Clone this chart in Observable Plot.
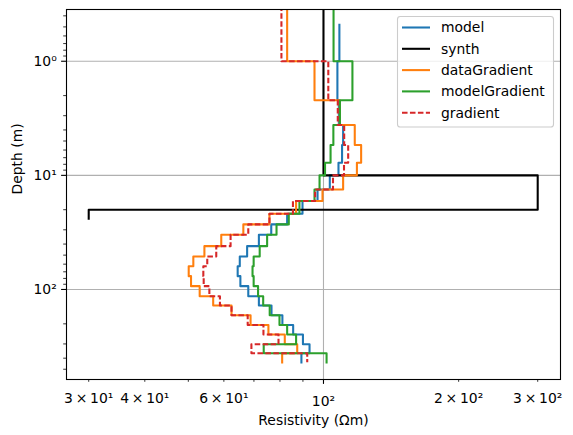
<!DOCTYPE html>
<html><head><meta charset="utf-8">
<script src="https://cdn.jsdelivr.net/npm/d3@7"></script>
<script src="https://cdn.jsdelivr.net/npm/@observablehq/plot@0.6"></script>
<style>body{margin:0;background:#fff} svg{display:block}</style>
</head><body><div id="chart"></div>
<script>
// Layer bottoms (depth, m) shared by the inverted models
const layerBottoms = [1.0, 2.2, 3.62, 5.42, 7.74, 10, 13.3, 16.8, 21.7, 26.9, 33.1, 41.7, 51.4, 62.5, 76.4, 93.5, 114.5, 138, 168, 205, 248, 302, 362];
const halfSpaceBottom = 435;
const modelTop = 0.48;
const curveTop = 0.2;

const model = [108.5, 107.4, 108.2, 110.6, 110.0, 108.0, 103.3, 97.0, 89.8, 83.0, 76.5, 71.8, 67.6, 65.1, 64.4, 65.3, 68.0, 71.8, 76.6, 81.0, 85.6, 90.0, 93.1, 89.3];
const dataGradient = [83.0, 95.5, 108.7, 117.4, 121.3, 118.7, 110.6, 99.5, 86.9, 75.8, 66.3, 59.2, 54.3, 51.3, 50.1, 50.7, 53.0, 56.8, 62.4, 68.8, 75.4, 82.0, 87.4, 80.9];
const modelGradient = [105.3, 116.0, 108.8, 105.2, 103.7, 100.8, 98.0, 95.5, 88.4, 83.7, 78.6, 74.9, 72.1, 69.9, 69.5, 69.9, 71.5, 73.4, 75.9, 79.8, 83.0, 86.9, 73.6, 101.6];
const gradient = [80.6, 102.5, 107.6, 111.2, 113.5, 111.1, 105.0, 95.8, 85.5, 75.8, 68.0, 62.1, 57.7, 55.1, 54.0, 54.1, 55.7, 58.8, 62.4, 67.8, 73.5, 79.4, 69.1, 92.0];

const synthRes = [100, 300, 30];
const synthBottoms = [10, 20];
const synthHalfSpaceBottom = 24;

const xMajorTicks = [100];
const xMinorLabelTicks = [30, 40, 60, 200, 300];
const xMinorTicks = [50, 70, 80, 90];
const yMajorTicks = [1, 10, 100];
const yMinorTicks = [0.4, 0.5, 0.6, 0.7, 0.8, 0.9, 2, 3, 4, 5, 6, 7, 8, 9, 20, 30, 40, 50, 60, 70, 80, 90, 200, 300, 400, 500];

const seriesNames = ["model", "synth", "dataGradient", "modelGradient", "gradient"];
const seriesColors = ["#1f77b4", "#000000", "#ff7f0e", "#2ca02c", "#d62728"];

function steps(values, bottoms, top, last) {
  const edges = [top, ...bottoms, last];
  const pts = [];
  values.forEach((v, i) => {
    pts.push({res: v, depth: edges[i]});
    pts.push({res: v, depth: edges[i + 1]});
  });
  return pts;
}

const sup = {"0": "\u2070", "1": "\u00b9", "2": "\u00b2"};
const expOf = d => Math.floor(Math.log10(d) + 1e-9);
const fmtMajor = d => "10" + sup[expOf(d)];
const fmtMinor = d => {
  const e = expOf(d);
  const m = Math.round(d / 10 ** e);
  return `${m}\u2009\u00d7\u200910${sup[e]}`;
};

const lw = 2.08;
const series = [
  {pts: steps(model, layerBottoms, modelTop, halfSpaceBottom), color: seriesColors[0]},
  {pts: steps(synthRes, synthBottoms, curveTop, synthHalfSpaceBottom), color: seriesColors[1]},
  {pts: steps(dataGradient, layerBottoms, curveTop, halfSpaceBottom), color: seriesColors[2]},
  {pts: steps(modelGradient, layerBottoms, curveTop, halfSpaceBottom), color: seriesColors[3]},
  {pts: steps(gradient, layerBottoms, curveTop, halfSpaceBottom), color: seriesColors[4], dash: "5.55,2.4"}
];

const fs = 13.9;
const chart = Plot.plot({
  width: 573,
  height: 435,
  marginLeft: 66,
  marginRight: 13,
  marginTop: 9,
  marginBottom: 56,
  style: {fontFamily: "DejaVu Sans", fontSize: fs + "px", background: "white", color: "black"},
  x: {type: "log", domain: [26.77, 337.2]},
  y: {type: "log", domain: [0.352, 615], reverse: true},
  marks: [
    Plot.gridX({ticks: xMajorTicks, stroke: "#b0b0b0", strokeOpacity: 1, strokeWidth: 1.1}),
    Plot.gridY({ticks: yMajorTicks, stroke: "#b0b0b0", strokeOpacity: 1, strokeWidth: 1.1}),
    ...series.map(s => Plot.line(s.pts, {
      x: "res", y: "depth", stroke: s.color, strokeWidth: lw, clip: true,
      strokeDasharray: s.dash, strokeLinecap: s.dash ? "butt" : "square", strokeLinejoin: "round"
    })),
    Plot.frame({stroke: "black", strokeWidth: 1.1}),
    Plot.axisX({ticks: xMajorTicks, tickFormat: fmtMajor, tickSize: 4.9, tickPadding: 12, fontSize: fs, label: null, strokeWidth: 1.1}),
    Plot.axisX({ticks: xMinorLabelTicks, tickFormat: fmtMinor, tickSize: 2.8, tickPadding: 11, fontSize: fs, label: null, strokeWidth: 0.8}),
    Plot.axisX({ticks: xMinorTicks, tickFormat: () => "", tickSize: 2.8, label: null, strokeWidth: 0.8}),
    Plot.axisY({ticks: yMajorTicks, tickFormat: fmtMajor, tickSize: 4.9, tickPadding: 4.9, fontSize: fs, label: null, strokeWidth: 1.1}),
    Plot.axisY({ticks: yMinorTicks, tickFormat: () => "", tickSize: 2.8, label: null, strokeWidth: 0.8}),
    Plot.text(["Resistivity (\u03a9m)"], {frameAnchor: "bottom", dy: 45, text: d => d, fontSize: fs, fill: "black"}),
    Plot.text(["Depth (m)"], {frameAnchor: "left", dx: -49, rotate: -90, text: d => d, fontSize: fs, fill: "black"})
  ]
});
document.getElementById("chart").appendChild(chart);

// Legend (upper right, inside the axes)
const svg = d3.select(chart);
const lg = svg.append("g").attr("text-anchor", "start");
lg.append("rect").attr("x", 397.5).attr("y", 16.5).attr("width", 156).attr("height", 110.5)
  .attr("rx", 2.8).attr("ry", 2.8)
  .style("fill", "white").style("fill-opacity", 0.8).style("stroke", "#cccccc").style("stroke-width", 1.1);
seriesNames.forEach((name, i) => {
  const y = 27.5 + i * 21.3;
  lg.append("line").attr("x1", 402).attr("x2", 430).attr("y1", y).attr("y2", y)
    .style("stroke", seriesColors[i]).style("stroke-width", lw)
    .style("stroke-dasharray", i === 4 ? "5.55,2.4" : null);
  lg.append("text").attr("x", 441).attr("y", y).attr("dy", "0.35em")
    .style("text-anchor", "start")
    .attr("font-family", "DejaVu Sans").attr("font-size", fs).attr("fill", "black").text(name);
});
</script>
</body></html>
